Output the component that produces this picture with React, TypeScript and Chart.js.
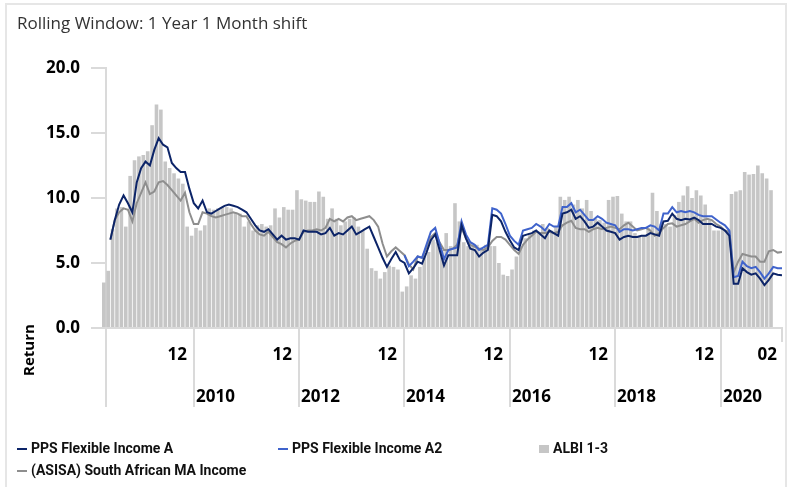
import React, { useEffect, useRef } from "react";
import { Chart, registerables } from "chart.js";

Chart.register(...registerables);

// Monthly series, index 0 = April 2008 ... index 154 = February 2021
const startYear = 2008;
const startMonth = 4;

const albi13: (number | null)[] = [
  3.5, 4.4, 7.6, 9.2, 9.3, 7.8, 11.7, 12.9, 13.2, 13.3,
  13.6, 15.6, 17.2, 16.8, 12.8, 12.3, 11.9, 11.5, 11.1, 7.8,
  7.1, 7.7, 7.5, 7.9, 9.2, 9.1, 9.2, 9.3, 9.3, 9.2,
  8.9, 8.8, 7.8, 8.2, 7.5, 7.9, 8.0, 7.8, 7.9, 9.2,
  8.5, 9.3, 9.1, 9.1, 10.6, 9.9, 9.8, 9.7, 9.7, 10.5,
  10.1, 8.4, 9.2, 8.4, 7.9, 8.2, 8.4, 8.5, 7.8, 7.5,
  6.1, 4.6, 4.4, 3.8, 4.3, 4.8, 4.7, 4.5, 2.8, 3.2,
  4.05, 3.8, 4.7, 5.5, 5.85, 6.8, 6.6, 6.0, 7.3, 6.3,
  9.6, 8.2, 6.6, 6.3, 6.3, 6.4, 6.2, 6.4, 6.3, 6.3,
  5.0, 4.1, 4.0, 4.5, 5.5, 6.2, 6.9, 7.3, 7.5, 7.4,
  8.0, 7.7, 7.5, 7.8, 10.1, 9.85, 10.1, 9.5, 9.85, 9.2,
  9.85, 9.0, 8.4, 8.3, 8.1, 9.85, 10.1, 10.15, 8.8, 8.2,
  8.2, 7.3, 7.1, 7.1, 7.7, 10.4, 9.0, 8.0, 8.0, 7.8,
  8.7, 9.7, 10.2, 10.9, 10.0, 10.6, 10.2, 9.5, 8.3, 7.5,
  7.5, 7.6, 7.4, 10.3, 10.5, 10.6, 12.0, 11.8, 11.85, 12.5,
  11.9, 11.5, 10.6, null, null,
];

const ppsA: (number | null)[] = [
  null, 6.8, 8.3, 9.5, 10.2, 9.6, 8.9, 11.2, 12.3, 12.8,
  12.5, 13.7, 14.6, 14.1, 13.9, 12.7, 12.3, 12.0, 12.0, 10.7,
  9.6, 9.2, 9.8, 8.9, 8.8, 9.0, 9.2, 9.4, 9.5, 9.4,
  9.3, 9.1, 8.9, 8.4, 7.9, 7.5, 7.4, 7.6, 7.2, 6.8,
  7.1, 6.8, 6.9, 6.9, 6.8, 7.5, 7.4, 7.4, 7.4, 7.2,
  7.3, 7.7, 7.1, 7.3, 7.2, 7.5, 7.8, 7.2, 7.4, 7.6,
  7.8, 7.0, 6.2, 5.4, 4.7, 5.3, 5.85, 5.2, 5.0, 4.2,
  4.6, 5.1, 4.95, 5.8, 6.75, 7.2, 6.0, 4.8, 5.6, 5.6,
  5.6, 7.9, 6.9, 6.1, 6.0, 5.5, 5.8, 6.0, 8.7, 8.6,
  8.2, 7.4, 6.75, 6.2, 6.0, 7.1, 7.2, 7.3, 7.5, 7.2,
  6.9, 7.5, 7.3, 7.1, 8.8, 8.9, 9.1, 8.4, 8.6, 8.2,
  7.7, 7.8, 8.1, 7.8, 7.5, 7.4, 7.3, 6.8, 7.0, 7.1,
  7.0, 7.0, 7.1, 7.1, 7.3, 7.2, 7.1, 8.2, 8.25, 8.8,
  8.4, 8.3, 8.4, 8.35, 8.5, 8.3, 8.0, 8.0, 8.0, 7.8,
  7.7, 7.5, 7.1, 3.4, 3.4, 4.6, 4.3, 4.1, 4.2, 3.8,
  3.3, 3.7, 4.2, 4.1, 4.05,
];

// A2 class starts in December 2013 (index 68)
const ppsA2: (number | null)[] = (Array(68).fill(null) as (number | null)[]).concat([
  5.6, 4.75, 5.1, 5.5, 5.4, 6.4, 7.4, 7.7, 6.5, 5.3,
  6.0, 6.1, 6.2, 8.2, 7.2, 6.6, 6.4, 6.0, 6.2, 6.4,
  9.2, 9.1, 8.8, 8.0, 7.1, 6.7, 6.4, 7.5, 7.6, 7.7,
  8.0, 7.8, 7.5, 8.0, 7.8, 7.8, 9.3, 9.3, 9.6, 8.9,
  9.1, 8.7, 8.3, 8.3, 8.6, 8.4, 8.1, 8.0, 7.9, 7.4,
  7.6, 7.6, 7.5, 7.6, 7.7, 7.7, 7.9, 7.8, 7.5, 8.8,
  8.8, 9.3, 8.9, 9.0, 8.9, 9.0, 8.9, 8.7, 8.6, 8.6,
  8.6, 8.35, 8.1, 7.9, 7.5, 3.9, 4.0, 5.1, 4.75, 4.6,
  4.7, 4.3, 3.8, 4.2, 4.7, 4.6, 4.6,
]);

const asisaMaIncome: (number | null)[] = [
  null, 6.8, 8.3, 8.9, 9.2, 9.1, 8.2, 9.6, 10.4, 11.2,
  10.3, 10.5, 11.2, 11.3, 11.0, 10.6, 10.2, 9.8, 10.4, 8.9,
  8.0, 8.0, 8.9, 8.8, 8.6, 8.5, 8.6, 8.7, 8.8, 8.9,
  8.8, 8.6, 8.6, 8.0, 7.5, 7.2, 7.1, 7.4, 7.0, 6.6,
  6.45, 6.2, 6.5, 6.7, 6.8, 7.4, 7.5, 7.5, 7.6, 7.5,
  7.7, 8.4, 8.2, 8.4, 8.2, 8.5, 8.6, 8.3, 8.4, 8.5,
  8.6, 8.3, 7.8, 6.5, 5.5, 5.9, 6.2, 5.9, 5.6, 4.9,
  4.5, 5.5, 5.4, 6.2, 7.0, 7.3, 6.6, 6.0, 6.0, 6.1,
  6.4, 7.7, 6.9, 6.4, 6.25, 6.1, 6.0, 6.2, 6.7, 7.0,
  7.0, 6.8, 6.4, 6.0, 5.7, 6.4, 6.8, 7.1, 7.4, 7.3,
  7.3, 7.4, 7.3, 7.4, 7.9, 8.1, 8.25, 7.7, 7.6, 7.6,
  7.4, 7.6, 7.7, 7.6, 7.7, 7.8, 7.7, 7.6, 7.9, 8.1,
  7.8, 7.5, 7.6, 7.7, 7.5, 7.1, 7.3, 7.7, 8.0, 8.05,
  7.8, 7.9, 8.0, 8.2, 8.4, 8.1, 8.3, 8.4, 8.3, 8.0,
  7.8, 7.5, 7.4, 4.3, 5.1, 5.7, 5.6, 5.5, 5.5, 5.1,
  5.1, 5.9, 6.0, 5.8, 5.85,
];

// Axis labels
const yearLabels = ["2010", "2012", "2014", "2016", "2018", "2020"];
const lowerTickMonth = "12";
const endLabel = { year: 2021, month: 2, text: "02" };
const axisStart = { year: 2008, month: 5 };
const yTicks = [0, 5, 10, 15, 20];

const legendItems = [
  { label: "PPS Flexible Income A", color: "#0c2468", kind: "line" },
  { label: "PPS Flexible Income A2", color: "#3f63cc", kind: "line" },
  { label: "ALBI 1-3", color: "#c6c6c6", kind: "box" },
  { label: "(ASISA) South African MA Income", color: "#8e8e8e", kind: "line" },
];

// month index (0 = Apr 2008) of the start of a given month
const monthIndex = (y: number, m: number) => (y - startYear) * 12 + (m - startMonth);

const axisPlugin = {
  id: "twoLevelAxis",
  afterDraw(chart: any) {
    const ctx = chart.ctx as CanvasRenderingContext2D;
    const xs = chart.scales.x;
    const bottom = chart.chartArea.bottom;
    ctx.save();
    ctx.strokeStyle = "#dadada";
    ctx.lineWidth = 2;
    const vline = (v: number, len: number) => {
      const px = Math.round(xs.getPixelForValue(v));
      ctx.beginPath();
      ctx.moveTo(px, bottom);
      ctx.lineTo(px, bottom + len);
      ctx.stroke();
      return px;
    };
    vline(monthIndex(axisStart.year, axisStart.month), 79);
    ctx.fillStyle = "#000";
    ctx.font = 'bold 17px "Open Sans"';
    ctx.textBaseline = "middle";
    yearLabels.forEach((yl) => {
      const b = monthIndex(Number(yl), 1);
      const px = vline(b, 79);
      ctx.textAlign = "right";
      ctx.fillText(lowerTickMonth, px - 7, bottom + 27);
      ctx.textAlign = "left";
      ctx.fillText(yl, px + 2, bottom + 69);
    });
    const endB = monthIndex(endLabel.year, endLabel.month) + 1;
    const epx = vline(endB, 14);
    ctx.textAlign = "right";
    ctx.fillText(endLabel.text, epx - 5, bottom + 27);
    ctx.translate(30, 350);
    ctx.rotate(-Math.PI / 2);
    ctx.textAlign = "center";
    ctx.font = 'bold 15px "Open Sans"';
    ctx.fillText("Return", 0, 0);
    ctx.restore();
  },
};

export default function App() {
  const ref = useRef<HTMLCanvasElement | null>(null);

  useEffect(() => {
    if (!ref.current) return;
    const barData = albi13.map((v, i) => ({ x: i + 0.5, y: v }));
    const lineData = (arr: (number | null)[]) => arr.map((v, i) => ({ x: i + 1, y: v }));
    const chart = new Chart(ref.current, {
      type: "bar",
      data: {
        datasets: [
          {
            type: "line",
            label: legendItems[0].label,
            data: lineData(ppsA) as any,
            borderColor: legendItems[0].color,
            borderWidth: 2,
            pointRadius: 0,
            tension: 0,
            order: 0,
          },
          {
            type: "line",
            label: legendItems[1].label,
            data: lineData(ppsA2) as any,
            borderColor: legendItems[1].color,
            borderWidth: 2,
            pointRadius: 0,
            tension: 0,
            order: 1,
          },
          {
            type: "line",
            label: legendItems[3].label,
            data: lineData(asisaMaIncome) as any,
            borderColor: legendItems[3].color,
            borderWidth: 2,
            pointRadius: 0,
            tension: 0,
            order: 2,
          },
          {
            type: "bar",
            label: legendItems[2].label,
            data: barData as any,
            backgroundColor: legendItems[2].color,
            borderWidth: 0,
            barPercentage: 0.82,
            categoryPercentage: 1,
            clip: false as any,
            order: 10,
          },
        ],
      },
      options: {
        responsive: false,
        maintainAspectRatio: false,
        devicePixelRatio: 1,
        animation: false,
        events: [],
        layout: { padding: { left: 0, right: 8, top: 68, bottom: 159 } },
        plugins: {
          legend: { display: false },
          tooltip: { enabled: false },
          title: { display: false },
        },
        scales: {
          x: {
            type: "linear",
            min: monthIndex(axisStart.year, axisStart.month),
            max: monthIndex(endLabel.year, endLabel.month) + 1,
            offset: false,
            grid: { display: false, drawTicks: false },
            ticks: { display: false },
            border: { display: true, color: "#dadada", width: 2 },
            afterFit: (s: any) => {
              s.height = 0;
            },
          },
          y: {
            min: yTicks[0],
            max: yTicks[yTicks.length - 1],
            afterBuildTicks: (s: any) => {
              s.ticks = yTicks.map((v) => ({ value: v }));
            },
            ticks: {
              padding: 11,
              color: "#000",
              font: { family: "Open Sans", size: 17, weight: "bold" },
              callback: (v: any) => Number(v).toFixed(1),
            },
            grid: {
              display: true,
              drawOnChartArea: false,
              drawTicks: true,
              tickLength: 15,
              color: "#dadada",
              lineWidth: 2,
            },
            border: { display: true, color: "#dadada", width: 2 },
            afterFit: (s: any) => {
              s.width = 106;
            },
          },
        },
      },
      plugins: [axisPlugin],
    });
    return () => chart.destroy();
  }, []);

  return (
    <div
      style={{
        position: "fixed",
        left: 0,
        top: 0,
        width: 790,
        height: 487,
        background: "#fff",
        overflow: "hidden",
      }}
    >
      <div
        style={{
          position: "absolute",
          left: 5,
          top: 3,
          width: 778,
          height: 540,
          border: "2px solid #e6e6e6",
        }}
      />
      <canvas
        ref={ref}
        width={790}
        height={487}
        style={{ position: "absolute", left: 0, top: 0, width: 790, height: 487 }}
      />
      <div
        style={{
          position: "absolute",
          left: 17,
          top: 11,
          font: '17px "Open Sans"',
          lineHeight: "24px",
          color: "#333",
          whiteSpace: "nowrap",
        }}
      >
        Rolling Window: 1 Year 1 Month shift
      </div>
      {legendItems.map((it, idx) => {
        const col = idx % 3;
        const row = Math.floor(idx / 3);
        return (
          <div
            key={it.label}
            style={{
              position: "absolute",
              left: 17 + col * 261,
              top: 440 + row * 22,
              display: "flex",
              alignItems: "center",
              font: "bold 14px Roboto",
              lineHeight: "17px",
              color: "#111",
              whiteSpace: "nowrap",
            }}
          >
            <span
              style={{
                display: "inline-block",
                width: 10,
                height: it.kind === "box" ? 8 : 2,
                background: it.color,
                marginRight: 4,
              }}
            />
            {it.label}
          </div>
        );
      })}
    </div>
  );
}
